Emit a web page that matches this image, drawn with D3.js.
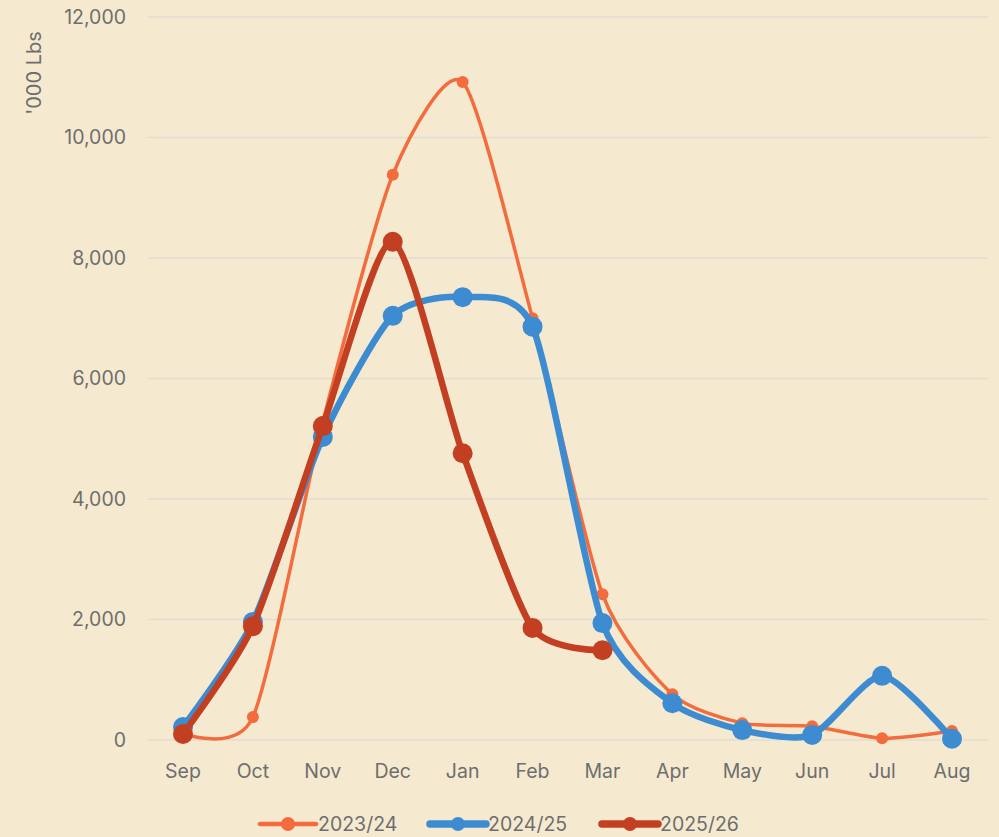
<!DOCTYPE html>
<html>
<head>
<meta charset="utf-8">
<script src="https://cdn.jsdelivr.net/npm/d3@7"></script>
<style>
  body { margin: 0; background: #f5ead0; }
  text { font-family: Inter, "Open Sans", sans-serif; fill: #6e6e6e; }
</style>
</head>
<body>
<div id="chart"></div>
<script>
// months on the x axis
var months = ["Sep", "Oct", "Nov", "Dec", "Jan", "Feb", "Mar", "Apr", "May", "Jun", "Jul", "Aug"]

// values, '000 lbs
var s2023 = [110, 380, 5280, 9380, 10920, 7000, 2420, 760, 280, 230, 30, 150]
var s2024 = [215, 1960, 5030, 7040, 7350, 6860, 1940, 610, 165, 85, 1065, 20]
var s2025 = [100, 1890, 5210, 8270, 4760, 1860, 1490]

var yTicks = [0, 2000, 4000, 6000, 8000, 10000, 12000]

var series = [
  { name: "2023/24", values: s2023, color: "#f36c3d", width: 3.5, r: 6 },
  { name: "2024/25", values: s2024, color: "#3d8bd0", width: 6.5, r: 10 },
  { name: "2025/26", values: s2025, color: "#c33f22", width: 6.5, r: 10 }
]

var svg = d3.select("#chart").append("svg")
  .attr("width", 999)
  .attr("height", 837)

svg.append("rect")
  .attr("width", 999).attr("height", 837)
  .style("fill", "#f5ead0")

var x = d3.scalePoint()
  .domain(months)
  .range([183, 952])

var y = d3.scaleLinear()
  .domain([0, 12000])
  .range([740, 17])

// gridlines + y labels
yTicks.forEach(function(t) {
  svg.append("line")
    .attr("x1", 148).attr("x2", 988)
    .attr("y1", y(t)).attr("y2", y(t))
    .style("stroke", "#e2ddd2")
    .style("stroke-width", 1.5)
  svg.append("text")
    .attr("x", 126)
    .attr("y", y(t))
    .attr("dy", "0.35em")
    .attr("text-anchor", "end")
    .style("font-size", "19.5px")
    .text(d3.format(",")(t))
})

// month labels
months.forEach(function(m) {
  svg.append("text")
    .attr("x", x(m))
    .attr("y", 778)
    .attr("text-anchor", "middle")
    .style("font-size", "19.5px")
    .text(m)
})

// axis title
svg.append("text")
  .attr("transform", "translate(41,73) rotate(-90)")
  .attr("text-anchor", "middle")
  .style("font-size", "20px")
  .text("'000 Lbs")

var line = d3.line()
  .x(function(d, i) { return x(months[i]) })
  .y(function(d) { return y(d) })
  .curve(d3.curveCardinal.tension(0.3))

series.forEach(function(s) {
  svg.append("path")
    .datum(s.values)
    .attr("d", line)
    .style("fill", "none")
    .style("stroke", s.color)
    .style("stroke-width", s.width)
    .style("stroke-linejoin", "round")
    .style("stroke-linecap", "round")

  s.values.forEach(function(v, i) {
    svg.append("circle")
      .attr("cx", x(months[i]))
      .attr("cy", y(v))
      .attr("r", s.r)
      .style("fill", s.color)
  })
})

// legend
var legendX = [260, 430, 602]
series.forEach(function(s, i) {
  var lx = legendX[i]
  svg.append("line")
    .attr("x1", lx).attr("x2", lx + 56)
    .attr("y1", 824).attr("y2", 824)
    .style("stroke", s.color)
    .style("stroke-width", i == 0 ? 4.5 : 7.5)
    .style("stroke-linecap", "round")
  svg.append("circle")
    .attr("cx", lx + 28).attr("cy", 824)
    .attr("r", 7)
    .style("fill", s.color)
  svg.append("text")
    .attr("x", lx + 58)
    .attr("y", 824)
    .attr("dy", "0.35em")
    .style("font-size", "19.5px")
    .text(s.name)
})
</script>
</body>
</html>
